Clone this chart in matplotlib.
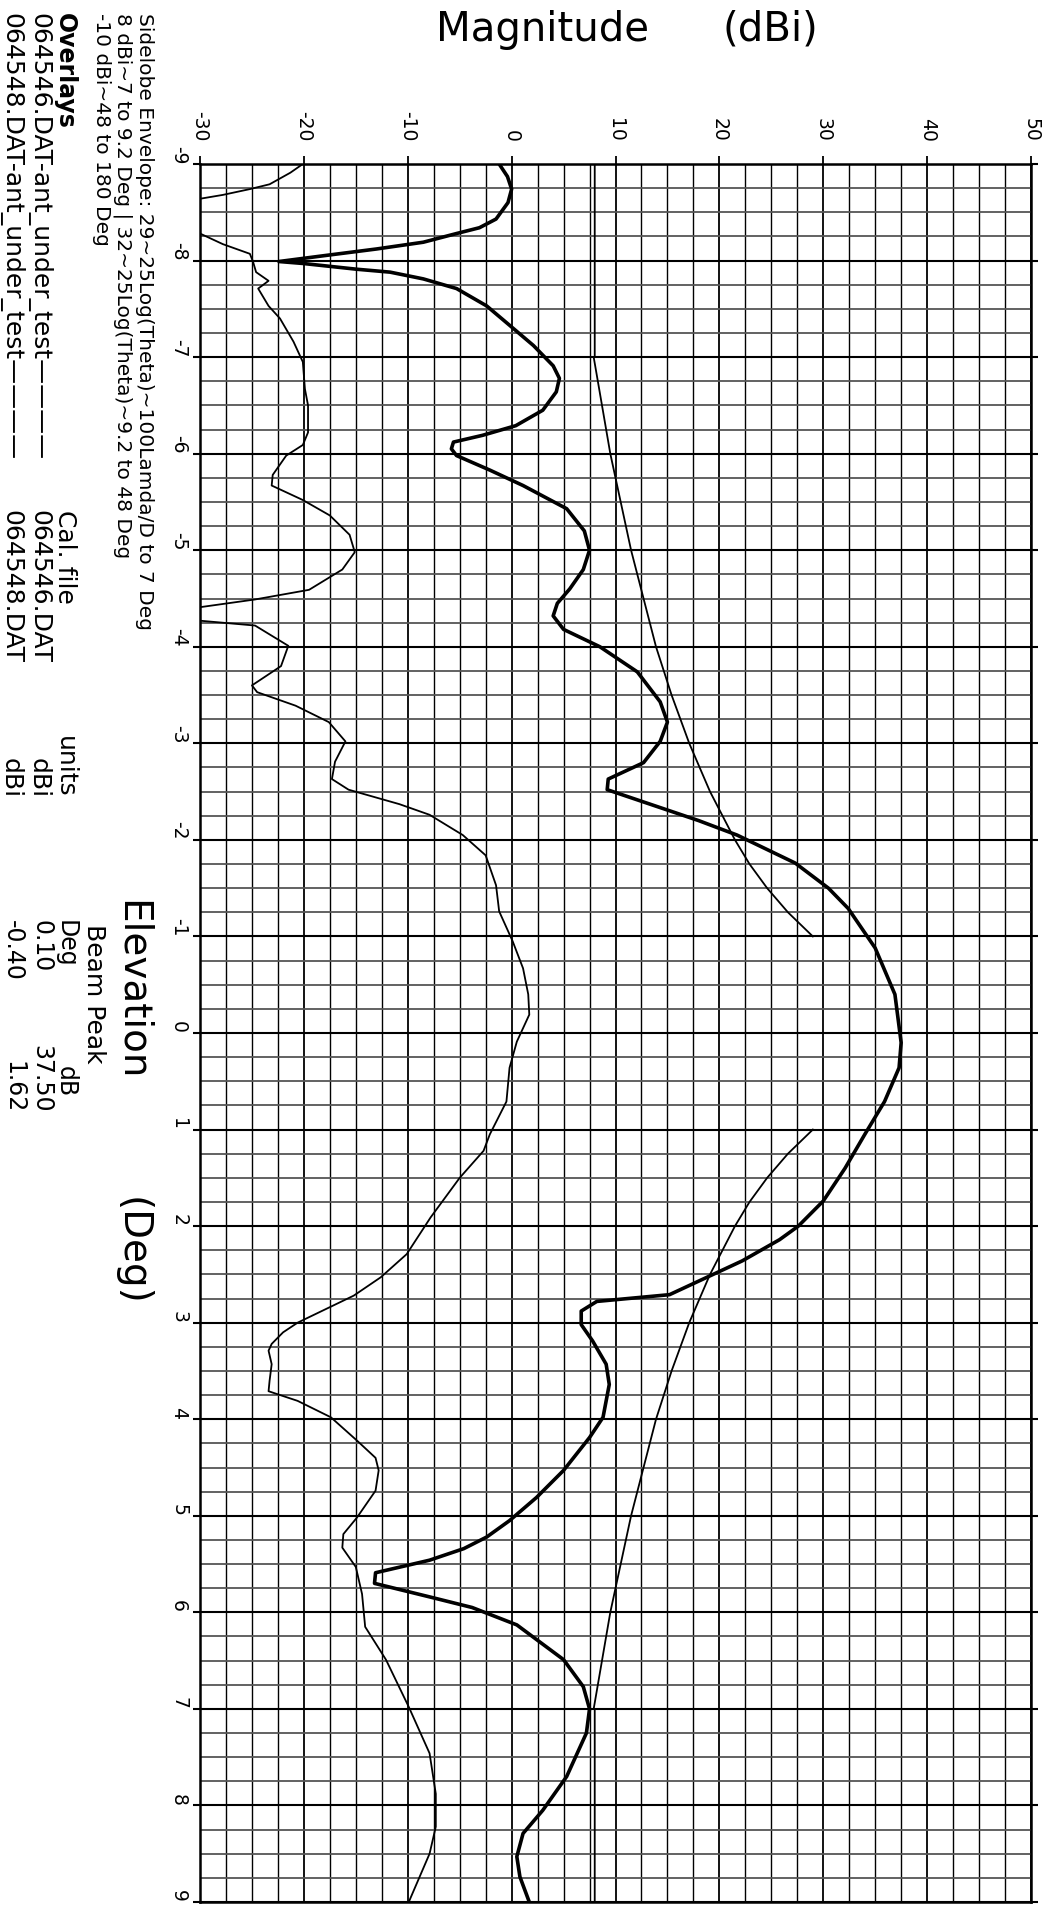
#!/usr/bin/env python3
# -*- coding: utf-8 -*-

import matplotlib
matplotlib.use('Agg')
import matplotlib.pyplot as plt
from matplotlib.ticker import MultipleLocator

# antenna under test, cal file 064546.DAT (thick trace)
elev_546 = [-9.0, -8.87, -8.74, -8.6, -8.43, -8.34, -8.28, -8.19, -8.12,
	-8.05, -7.99, -7.97, -7.91, -7.88, -7.81, -7.71, -7.53, -7.33, -7.12,
	-6.91, -6.78, -6.64, -6.45, -6.29, -6.19, -6.12, -6.05, -5.98, -5.83,
	-5.67, -5.43, -5.2, -5.0, -4.8, -4.6, -4.45, -4.32, -4.18, -4.0,
	-3.74, -3.43, -3.22, -3.02, -2.8, -2.63, -2.52, -2.4, -2.2, -2.05,
	-1.76, -1.5, -1.29, -0.88, -0.4, 0.1, 0.36, 0.71, 1.05, 1.4,
	1.74, 2.0, 2.14, 2.36, 2.52, 2.71, 2.78, 2.88, 3.02, 3.19,
	3.43, 3.64, 3.98, 4.19, 4.53, 4.81, 5.05, 5.22, 5.34, 5.46,
	5.59, 5.7, 5.84, 5.95, 6.13, 6.49, 6.77, 7.0, 7.25, 7.7,
	8.05, 8.29, 8.53, 8.74, 9.0]
mag_546 = [-1.2, -0.4, 0.0, -0.35, -1.5, -3.1, -5.3, -8.5, -13.0,
	-18.1, -22.4, -20.1, -14.9, -11.7, -8.5, -5.3, -2.4, -0.2, 2.1,
	4.0, 4.6, 4.3, 3.0, 0.4, -2.8, -5.6, -5.8, -5.3, -2.1,
	1.1, 5.3, 7.0, 7.5, 6.9, 5.6, 4.4, 4.0, 5.0, 8.5,
	12.1, 14.3, 15.0, 14.3, 12.7, 9.3, 9.2, 12.5, 18.0, 21.7,
	27.3, 30.5, 32.4, 35.0, 36.9, 37.5, 37.3, 35.9, 34.0, 32.1,
	30.0, 27.6, 25.8, 22.2, 19.0, 15.2, 8.2, 6.7, 6.7, 7.8,
	9.1, 9.4, 8.8, 7.5, 5.0, 2.4, -0.2, -2.4, -4.6, -7.9,
	-13.1, -13.2, -7.9, -3.8, 0.5, 5.0, 6.9, 7.5, 7.2, 5.3,
	3.0, 1.1, 0.5, 0.8, 1.7]

# antenna under test, cal file 064548.DAT (thin trace)
elev_548 = [-9.0, -8.91, -8.79, -8.74, -8.68, -8.64, -8.5, -8.4, -8.28,
	-8.17, -8.07, -7.99, -7.88, -7.79, -7.71, -7.53, -7.4, -7.16, -6.95,
	-6.67, -6.5, -6.22, -6.09, -5.98, -5.78, -5.67, -5.52, -5.36, -5.16,
	-4.98, -4.8, -4.59, -4.49, -4.41, -4.34, -4.27, -4.22, -4.01, -3.8,
	-3.6, -3.53, -3.39, -3.22, -3.02, -2.81, -2.63, -2.52, -2.37, -2.26,
	-2.05, -1.84, -1.53, -1.26, -0.95, -0.67, -0.4, -0.19, 0.09, 0.36,
	0.71, 1.05, 1.22, 1.5, 1.91, 2.29, 2.53, 2.72, 3.0, 3.1,
	3.22, 3.29, 3.43, 3.6, 3.71, 3.81, 3.98, 4.22, 4.4, 4.53,
	4.74, 5.02, 5.19, 5.33, 5.53, 5.81, 6.15, 6.49, 6.98, 7.46,
	7.88, 8.22, 8.5, 9.0]
mag_548 = [-20.1, -21.3, -23.3, -25.2, -27.8, -30.0, -32.5, -32.5, -30.0,
	-27.8, -25.2, -24.9, -24.6, -23.4, -24.4, -23.4, -22.3, -21.0, -20.1,
	-19.9, -19.6, -19.6, -20.1, -21.7, -23.0, -23.1, -20.1, -17.5, -15.6,
	-15.1, -16.3, -19.5, -24.7, -30.0, -32.0, -30.0, -24.7, -21.5, -22.2,
	-25.0, -24.5, -20.8, -17.6, -16.0, -17.0, -17.3, -15.7, -10.8, -7.9,
	-4.7, -2.5, -1.5, -1.2, 0.1, 1.1, 1.6, 1.7, 0.5, -0.2,
	-0.5, -2.1, -2.7, -5.0, -7.8, -10.1, -12.6, -15.2, -20.6, -22.0,
	-23.1, -23.4, -23.1, -23.3, -23.4, -20.6, -17.4, -14.9, -13.1, -12.8,
	-13.1, -14.9, -16.2, -16.3, -15.0, -14.4, -14.1, -12.1, -9.9, -7.9,
	-7.3, -7.3, -7.9, -9.9]

# sidelobe envelope, same on both sides of boresight
env_theta = [1.0, 1.25, 1.5, 1.75, 2.0, 2.5, 3.0, 3.5, 4.0, 4.5, 5.0,
	5.5, 6.0, 6.5, 7.0, 7.0, 9.0]
env_mag = [29.0, 26.6, 24.6, 22.9, 21.5, 19.1, 17.1, 15.4, 13.9, 12.7, 11.5,
	10.5, 9.5, 8.7, 7.9, 8.0, 8.0]

mag_ticks = [-30, -20, -10, 0, 10, 20, 30, 40, 50]
mag_labels = ['-30', '-20', '-10', '0', '10', '20', '30', '40', '50']
elev_ticks = list(range(-9, 10))
elev_labels = [str(e) for e in elev_ticks]

envelope_lines = ['Sidelobe Envelope: 29~25Log(Theta)~100Lamda/D to 7 Deg',
	'8 dBi~7 to 9.2 Deg | 32~25Log(Theta)~9.2 to 48 Deg',
	'-10 dBi~48 to 180 Deg']
overlay_names = ['064546.DAT-ant_under_test————', '064548.DAT-ant_under_test————']
cal_files = ['064546.DAT', '064548.DAT']
units = ['dBi', 'dBi']
peak_deg = ['0.10', '-0.40']
peak_db = ['37.50', '1.62']

W, H = 1053, 1905
FONT = 'DejaVu Sans'

def px(x, y):
	return x / W, 1 - y / H

def vtext(fig, x, y, s, size, va='top', weight='normal'):
	# text turned a quarter clockwise, read from top to bottom
	fig.text(*px(x, y), s, rotation=-90, ha='center', va=va,
		fontsize=size, family=FONT, fontweight=weight)

fig = plt.figure(figsize=(W / 100, H / 100), dpi=100)
ax = fig.add_axes([200 / W, 3 / H, 831 / W, 1738 / H])

ax.plot(mag_546, elev_546, color='black', lw=2.6, zorder=4)
ax.plot(mag_548, elev_548, color='black', lw=1.3, zorder=4)
ax.plot(env_mag, [-t for t in env_theta], color='black', lw=1.3, zorder=4)
ax.plot(env_mag, env_theta, color='black', lw=1.3, zorder=4)

ax.set_xlim(-30, 50)
ax.set_ylim(9, -9)

ax.xaxis.tick_top()
ax.set_xticks(mag_ticks)
ax.set_xticklabels(mag_labels, rotation=-90, fontsize=13.5, family=FONT)
ax.xaxis.set_minor_locator(MultipleLocator(2.5))
ax.set_yticks(elev_ticks)
ax.set_yticklabels(elev_labels, rotation=-90, va='bottom', fontsize=13.5, family=FONT)
ax.yaxis.set_minor_locator(MultipleLocator(0.25))

ax.tick_params(axis='x', which='major', length=6, width=1.3, pad=10)
ax.tick_params(axis='y', which='major', length=5, width=1.5, pad=3.5, right=True)
ax.tick_params(which='minor', length=0)

ax.grid(which='major', axis='x', color='black', lw=1.3)
ax.grid(which='minor', axis='x', color='black', lw=1.0)
ax.grid(which='major', axis='y', color='black', lw=1.5)
ax.grid(which='minor', axis='y', color='#555555', lw=1.3)
ax.set_axisbelow(True)
for sp in ax.spines.values():
	sp.set_linewidth(1.8)

# titles
fig.text(*px(436, 41), 'Magnitude', ha='left', va='baseline', fontsize=29, family=FONT)
fig.text(*px(723, 41), '(dBi)', ha='left', va='baseline', fontsize=29, family=FONT)
vtext(fig, 132, 900, 'Elevation', 28)
vtext(fig, 132, 1197, '(Deg)', 28)

# envelope definition, top left
for x, s in zip([144, 123, 101], envelope_lines):
	vtext(fig, x, 13, s, 14.5)

# overlays block
vtext(fig, 65, 13, 'Overlays', 17, weight='bold')
vtext(fig, 65, 510, 'Cal. file', 18)
vtext(fig, 65, 798, 'units', 18, va='bottom')
for x, name, cal, u in zip([39, 11], overlay_names, cal_files, units):
	vtext(fig, x, 13, name, 18)
	vtext(fig, x, 510, cal, 18)
	vtext(fig, x, 798, u, 18, va='bottom')

# beam peak block
vtext(fig, 94, 924, 'Beam Peak', 18)
vtext(fig, 66, 920, 'Deg', 17)
vtext(fig, 66, 1097, 'dB', 17, va='bottom')
for x, d, p in zip([41, 13], peak_deg, peak_db):
	vtext(fig, x, 920, d, 17)
	vtext(fig, x, 1113, p, 17, va='bottom')

plt.savefig('out.png', dpi=100)
plt.close()
print('Saved plot to out.png')
